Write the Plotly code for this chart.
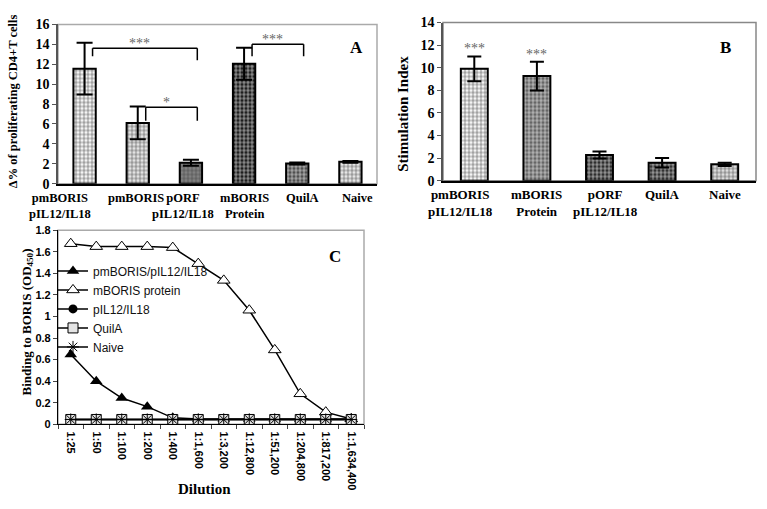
import plotly.graph_objects as go

# ---------------- Panel A data ----------------
a_categories = ["pmBORIS<br>pIL12/IL18", "pmBORIS", "pORF<br>pIL12/IL18",
                "mBORIS<br>Protein", "QuilA", "Naive"]
a_values = [11.55, 6.1, 2.1, 12.05, 2.03, 2.19]
a_errors = [2.6, 1.65, 0.3, 1.6, 0.1, 0.08]
# (from bar, to bar, bracket level, left drop end, right drop end, label)
a_brackets = [(0, 2, 13.6, 12.8, 12.4, "***"),
              (1, 2, 7.67, 6.33, 6.33, "*"),
              (3, 4, 14.0, 12.8, 12.8, "***")]
a_yticks = [0, 2, 4, 6, 8, 10, 12, 14, 16]

# ---------------- Panel B data ----------------
b_categories = ["pmBORIS<br>pIL12/IL18", "mBORIS<br>Protein", "pORF<br>pIL12/IL18",
                "QuilA", "Naive"]
b_values = [9.9, 9.26, 2.27, 1.59, 1.45]
b_errors = [1.1, 1.28, 0.31, 0.42, 0.15]
b_stars = ["***", "***", "", "", ""]
b_yticks = [0, 2, 4, 6, 8, 10, 12, 14]

# ---------------- Panel C data ----------------
c_dilutions = ["1:25", "1:50", "1:100", "1:200", "1:400", "1:1,600", "1:3,200",
               "1:12,800", "1:51,200", "1:204,800", "1:817,200", "1:1,634,400"]
c_pmboris_pil = [0.647, 0.40, 0.244, 0.164, 0.06, 0.05, 0.05, 0.05, 0.05, 0.05, 0.05, 0.05]
c_mboris_protein = [1.675, 1.648, 1.648, 1.648, 1.639, 1.49, 1.335, 1.058, 0.69, 0.283, 0.113, 0.05]
c_pil = [0.045, 0.045, 0.045, 0.045, 0.045, 0.045, 0.045, 0.045, 0.045, 0.045, 0.045, 0.045]
c_quila = [0.045, 0.045, 0.045, 0.045, 0.045, 0.045, 0.045, 0.045, 0.045, 0.045, 0.045, 0.045]
c_naive = [0.045, 0.045, 0.045, 0.045, 0.045, 0.045, 0.045, 0.045, 0.045, 0.045, 0.045, 0.045]

# ---------------- styles ----------------
W, H = 767, 509
SERIF = "Liberation Serif"
SANS = "Liberation Sans"
a_bg = ["#f4f4f4", "#e2e2e2", "#808080", "#1e1e1e", "#505050", "#e6e6e6"]
a_fg = ["#8a8a8a", "#7a7a7a", "#333333", "#000000", "#111111", "#8a8a8a"]
b_bg = ["#f4f4f4", "#666666", "#2e2e2e", "#333333", "#dcdcdc"]
b_fg = ["#999999", "#222222", "#000000", "#000000", "#808080"]
a_label_shift = [-0.47, -0.04, -0.14, 0.0, 0.1, 0.13]
b_label_shift = [-0.22, 0.0, 0.1, 0.0, 0.0]


def px_dom_x(x0, x1):
    return [x0 / W, x1 / W]


def px_dom_y(top, bottom):
    return [1 - bottom / H, 1 - top / H]


fig = go.Figure()

a_x = list(range(len(a_categories)))
b_x = list(range(len(b_categories)))

fig.add_trace(go.Bar(
    x=a_x, y=a_values, xaxis="x", yaxis="y", width=0.42, showlegend=False,
    marker=dict(color=a_bg, line=dict(color="black", width=2),
                pattern=dict(shape="+", size=4, solidity=0.25, fgcolor=a_fg,
                             fgopacity=1, fillmode="overlay")),
    error_y=dict(type="data", array=a_errors, color="black", thickness=2, width=8),
))

fig.add_trace(go.Bar(
    x=b_x, y=b_values, xaxis="x2", yaxis="y2", width=0.43, showlegend=False,
    marker=dict(color=b_bg, line=dict(color="black", width=2),
                pattern=dict(shape="+", size=4, solidity=0.25, fgcolor=b_fg,
                             fgopacity=1, fillmode="overlay")),
    error_y=dict(type="data", array=b_errors, color="black", thickness=2, width=7),
))

line_style = dict(color="black", width=1.5)
fig.add_trace(go.Scatter(x=c_dilutions, y=c_pmboris_pil, xaxis="x3", yaxis="y3",
                         name="pmBORIS/pIL12/IL18", mode="lines+markers", line=line_style,
                         marker=dict(symbol="triangle-up", size=11, color="black")))
fig.add_trace(go.Scatter(x=c_dilutions, y=c_mboris_protein, xaxis="x3", yaxis="y3",
                         name="mBORIS protein", mode="lines+markers", line=line_style,
                         marker=dict(symbol="triangle-up", size=11, color="white",
                                     line=dict(color="black", width=1))))
fig.add_trace(go.Scatter(x=c_dilutions, y=c_pil, xaxis="x3", yaxis="y3",
                         name="pIL12/IL18", mode="lines+markers", line=line_style,
                         marker=dict(symbol="circle", size=9, color="black")))
fig.add_trace(go.Scatter(x=c_dilutions, y=c_quila, xaxis="x3", yaxis="y3",
                         name="QuilA", mode="lines+markers", line=line_style,
                         marker=dict(symbol="square", size=10, color="#e4e4e4",
                                     line=dict(color="black", width=1))))
fig.add_trace(go.Scatter(x=c_dilutions, y=c_naive, xaxis="x3", yaxis="y3",
                         name="Naive", mode="lines+markers", line=line_style,
                         marker=dict(symbol="asterisk-open", size=10,
                                     line=dict(color="black", width=1))))

shapes = []
annotations = []

# Significance brackets (A)
for (i, j, level, ldrop, rdrop, label) in a_brackets:
    xl = a_x[i] + 0.15
    xr = a_x[j] + 0.12
    for (x0, y0, x1, y1) in [(xl, ldrop, xl, level), (xl, level, xr, level), (xr, level, xr, rdrop)]:
        shapes.append(dict(type="line", xref="x", yref="y", x0=x0, y0=y0, x1=x1, y1=y1,
                           line=dict(color="black", width=1.5)))
    annotations.append(dict(x=(xl + xr) / 2 - 0.1, y=level, xref="x", yref="y", text=label,
                            showarrow=False, yanchor="bottom", yshift=-5,
                            font=dict(family=SERIF, size=14, color="#666666")))

# Stars (B)
for xi, v, e, s in zip(b_x, b_values, b_errors, b_stars):
    if s:
        annotations.append(dict(x=xi, y=v + e, xref="x2", yref="y2", text=s,
                                showarrow=False, yanchor="bottom", yshift=-2,
                                font=dict(family=SERIF, size=14, color="#666666")))

# Category labels (A and B)
for xi, lab, sh in zip(a_x, a_categories, a_label_shift):
    annotations.append(dict(x=xi + sh, y=1 - 188 / H, xref="x", yref="paper",
                            text="<b>" + lab + "</b>", showarrow=False,
                            xanchor="center", yanchor="top",
                            font=dict(family=SERIF, size=12.5, color="black")))
for xi, lab, sh in zip(b_x, b_categories, b_label_shift):
    annotations.append(dict(x=xi + sh, y=1 - 183 / H, xref="x2", yref="paper",
                            text="<b>" + lab + "</b>", showarrow=False,
                            xanchor="center", yanchor="top",
                            font=dict(family=SERIF, size=13, color="black")))

# Frames
for xr_, yr_, col in [("x domain", "y domain", "#aaaaaa"),
                      ("x2 domain", "y2 domain", "#888888"),
                      ("x3 domain", "y3 domain", "#aaaaaa")]:
    shapes.append(dict(type="rect", xref=xr_, yref=yr_, x0=0, y0=0, x1=1, y1=1,
                       line=dict(color=col, width=1.5), layer="below"))

# Panel letters
for txt, xr_, yr_, x, y in [("A", "x domain", "y domain", 0.962, 0.927),
                            ("B", "x2 domain", "y2 domain", 0.927, 0.914),
                            ("C", "x3 domain", "y3 domain", 0.93, 0.925)]:
    annotations.append(dict(text="<b>" + txt + "</b>", xref=xr_, yref=yr_, x=x, y=y,
                            showarrow=False,
                            font=dict(family=SERIF, size=17, color="black")))

# Axis titles
for txt, x, y, size in [("Δ% of proliferating CD4+T cells", 13, 97, 12.5),
                        ("Stimulation Index", 403, 110, 15),
                        ("Binding to BORIS (OD<sub>450</sub>)", 27, 325, 13)]:
    annotations.append(dict(text="<b>" + txt + "</b>", xref="paper", yref="paper",
                            x=x / W, y=1 - y / H, textangle=-90, showarrow=False,
                            xanchor="center", yanchor="middle",
                            font=dict(family=SERIF, size=size, color="black")))
annotations.append(dict(text="<b>Dilution</b>", xref="paper", yref="paper",
                        x=205 / W, y=1 - 497 / H, showarrow=False,
                        xanchor="center", yanchor="middle",
                        font=dict(family=SERIF, size=15, color="black")))

serif_bold_tick = dict(family=SERIF + ", serif", size=14, color="black", weight="bold")

fig.update_layout(
    width=W, height=H, margin=dict(l=0, r=0, t=0, b=0),
    paper_bgcolor="white", plot_bgcolor="white",
    shapes=shapes, annotations=annotations,
    legend=dict(x=53 / W, y=1 - 257 / H, xanchor="left", yanchor="top",
                bgcolor="rgba(0,0,0,0)", font=dict(family=SANS, size=12, color="#111111"),
                tracegroupgap=0, itemwidth=30),
    xaxis=dict(domain=px_dom_x(58, 377), anchor="y", range=[-0.5, 5.5],
               showticklabels=False,
               showline=True, linecolor="black", linewidth=1.5, ticks="",
               showgrid=False, zeroline=False),
    yaxis=dict(domain=px_dom_y(18, 182), anchor="x", range=[0, 16],
               tickvals=a_yticks, tickfont=serif_bold_tick,
               showline=True, linecolor="#555555", linewidth=1.5, ticks="outside",
               ticklen=4, tickcolor="#555555", showgrid=False, zeroline=False),
    xaxis2=dict(domain=px_dom_x(443, 756), anchor="y2", range=[-0.5, 4.5],
                showticklabels=False,
                showline=True, linecolor="black", linewidth=1.5, ticks="",
                showgrid=False, zeroline=False),
    yaxis2=dict(domain=px_dom_y(16, 179), anchor="x2", range=[0, 14],
                tickvals=b_yticks, tickfont=serif_bold_tick,
                showline=True, linecolor="#555555", linewidth=1.5, ticks="outside",
                ticklen=4, tickcolor="#555555", showgrid=False, zeroline=False),
    xaxis3=dict(domain=px_dom_x(58, 364), anchor="y3", type="category",
                range=[-0.5, 11.5], tickangle=90, ticklabelstandoff=4,
                tickfont=dict(family=SANS, size=11, color="black", weight="bold"),
                showline=True, linecolor="black", linewidth=1.2, ticks="outside",
                tickson="boundaries", ticklen=4, showgrid=False, zeroline=False),
    yaxis3=dict(domain=px_dom_y(230, 430), anchor="x3", range=[0, 1.8], dtick=0.2,
                tickfont=dict(family=SANS, size=11, color="black", weight="bold"),
                showline=True, linecolor="black", linewidth=1.2, ticks="outside",
                ticklen=4, showgrid=False, zeroline=False),
)

fig.write_html("out.html", config={"displayModeBar": False},
               post_script="document.body.style.margin='0px';")
